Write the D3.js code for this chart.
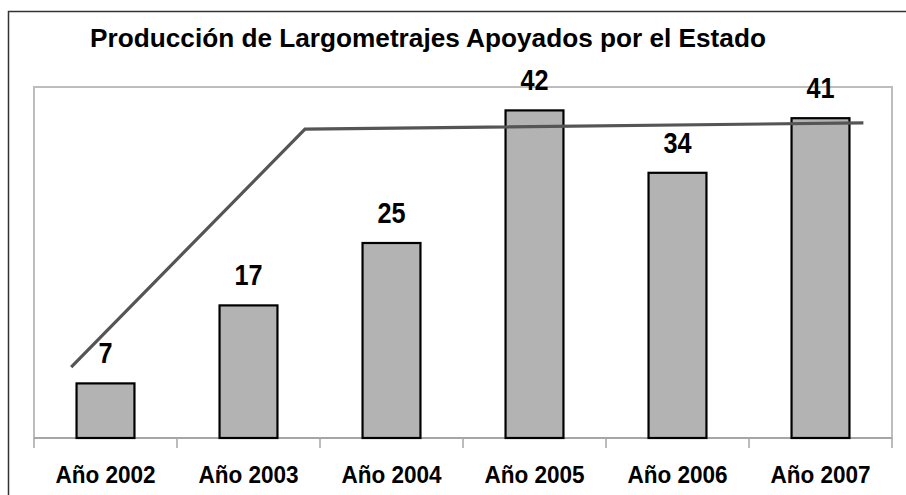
<!DOCTYPE html>
<html><head><meta charset="utf-8">
<script src="https://cdn.jsdelivr.net/npm/d3@7/dist/d3.min.js"></script>
<style>body{margin:0;background:#fff}svg{display:block}</style>
</head><body>
<svg id="c" width="906" height="495"></svg>
<script>
const title = "Producción de Largometrajes Apoyados por el Estado";
const categories = ["Año 2002","Año 2003","Año 2004","Año 2005","Año 2006","Año 2007"];
const values = [7,17,25,42,34,41];
// hand-drawn trend line: position in category units, value
const trendPos = [0.26, 1.895, 5.80];
const trendVal = [9.1, 39.6, 40.4];
const yDomain = [0,45];

const svg = d3.select("#c");
const FONT = "'Liberation Sans', Arial, sans-serif";
const pLeft=34, pRight=892, pTop=87, pBottom=438;

svg.append("rect").attr("x",8.5).attr("y",11.5).attr("width",910).attr("height",500)
  .attr("fill","#fff").attr("stroke","#333").attr("stroke-width",1.5);

const x = d3.scaleBand().domain(categories).range([pLeft,pRight]).paddingInner(0.595).paddingOuter(0.2975);
const xPos = d3.scaleLinear().domain([0,categories.length]).range([pLeft,pRight]);
const y = d3.scaleLinear().domain(yDomain).range([pBottom,pTop]);

// plot area border
svg.append("rect").attr("x",pLeft).attr("y",pTop).attr("width",pRight-pLeft).attr("height",pBottom-pTop)
  .attr("fill","none").attr("stroke","#bdbdbd").attr("stroke-width",2);

// x axis
const ax = svg.append("g").attr("transform",`translate(0,${pBottom})`);
ax.append("line").attr("x1",pLeft).attr("x2",pRight).attr("stroke","#a6a6a6").attr("stroke-width",2);
ax.selectAll("line.t").data(d3.range(categories.length+1)).join("line").attr("class","t")
  .attr("x1",d=>xPos(d)).attr("x2",d=>xPos(d)).attr("y1",0).attr("y2",10)
  .attr("stroke","#a6a6a6").attr("stroke-width",1.5);

// bars
svg.selectAll("rect.bar").data(values).join("rect").attr("class","bar")
  .attr("x",(d,i)=>x(categories[i])).attr("width",x.bandwidth())
  .attr("y",d=>y(d)).attr("height",d=>y(0)-y(d))
  .attr("fill","#b3b3b3").attr("stroke","#000").attr("stroke-width",2.2);

// trend line
const pts = trendPos.map((p,i)=>[xPos(p), y(trendVal[i])]);
svg.append("path").attr("d",d3.line()(pts)).attr("fill","none")
  .attr("stroke","#555").attr("stroke-width",3.2);

function scaledText(g, txt, cx, baseline, size, sx){
  const t = g.append("text").attr("text-anchor","middle").attr("font-family",FONT)
    .attr("font-weight","bold").attr("font-size",size).attr("fill","#000").text(txt)
    .attr("transform",`translate(${cx},${baseline}) scale(${sx},1)`);
  return t;
}

// value labels
values.forEach((v,i)=>{
  scaledText(svg, String(v), x(categories[i])+x.bandwidth()/2, y(v)-20, 29, 0.87);
});
// category labels
categories.forEach(c=>{
  scaledText(svg, c, x(c)+x.bandwidth()/2, 483, 23.5, 0.96);
});
// title
const tt = scaledText(svg, title, 428, 47, 26.5, 1);
const w = tt.node().getComputedTextLength();
tt.attr("transform",`translate(428,47) scale(${676/w},1)`);
</script>
</body></html>
